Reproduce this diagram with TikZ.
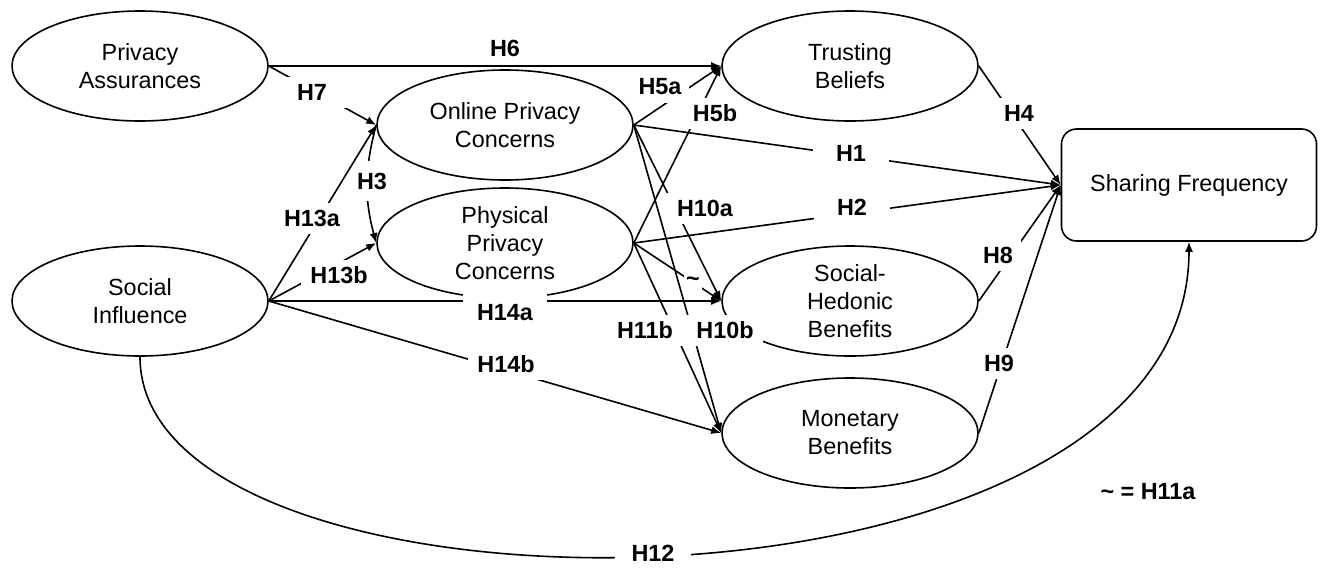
\documentclass[tikz,border=0pt]{standalone}
\usepackage{fontspec}
\setmainfont{Liberation Sans}
\usetikzlibrary{shapes.geometric, arrows.meta}

\newcommand{\diagfont}{\fontsize{11.7}{14}\selectfont}

\begin{document}
\begin{tikzpicture}[
    x=0.5pt, y=-0.5pt,
    line width=0.8pt,
    font=\diagfont,
    latent/.style={ellipse, draw, fill=white, minimum width=128pt, minimum height=55pt, inner sep=0pt, align=center},
    outcome/.style={rectangle, draw, fill=white, rounded corners=7.5pt, minimum width=127.5pt, minimum height=56pt, align=center},
    arrow/.style={->, >={Latex[length=5pt,width=4pt]}},
    hyp/.style={fill=white, font=\diagfont\bfseries, inner xsep=4pt, inner ysep=0pt, minimum height=15.5pt},
    wide/.style={minimum width=38pt}
]
\useasboundingbox (0,0) rectangle (1322,568);

% Constructs
\node[latent] (pa) at (140,66) {Privacy\\Assurances};
\node[latent] (si) at (140,301) {Social\\Influence};
\node[latent] (opc) at (505,125) {Online Privacy\\Concerns};
\node[latent] (ppc) at (505,243) {Physical\\Privacy\\Concerns};
\node[latent] (tb) at (850,66) {Trusting\\Beliefs};
\node[latent] (shb) at (850,301) {Social-\\Hedonic\\Benefits};
\node[latent] (mb) at (850,433) {Monetary\\Benefits};
\node[outcome] (sf) at (1189,185) {Sharing Frequency};

% Paths
\draw[arrow] (pa.east) -- (tb.west);
\draw[arrow] (pa.east) -- (opc.west);
\draw[arrow] (opc.west) to[bend right=15] (ppc.west);
\draw[arrow] (si.east) -- (opc.west);
\draw[arrow] (si.east) -- (ppc.west);
\draw[arrow] (si.east) -- (shb.west);
\draw[arrow] (si.east) -- (mb.west);

\draw[arrow] (opc.east) -- (tb.west);
\draw[arrow] (opc.east) -- (sf.west);
\draw[arrow] (opc.east) -- (shb.west);
\draw[arrow] (opc.east) -- (mb.west);

\draw[arrow] (ppc.east) -- (tb.west);
\draw[arrow] (ppc.east) -- (sf.west);
\draw[arrow] (ppc.east) -- (shb.west);
\draw[arrow] (ppc.east) -- (mb.west);

\draw[arrow] (tb.east) -- (sf.west);
\draw[arrow] (shb.east) -- (sf.west);
\draw[arrow] (mb.east) -- (sf.west);

\draw[arrow] (si.south) .. controls +(0,283) and +(0,399) .. (sf.south);

% Path labels
\node[hyp] (l-h6) at (505,48) {H6};
\node[hyp, wide] (l-h7) at (312,92) {H7};
\node[hyp, inner xsep=1pt, minimum width=16pt, minimum height=20pt] (l-h3) at (372,181) {H3};
\node[hyp] (l-h13a) at (312,218) {H13a};
\node[hyp, wide] (l-h13b) at (339,275) {H13b};
\node[hyp, wide, minimum width=42pt, minimum height=19pt] (l-h14a) at (505,313) {H14a};
\node[hyp, wide] (l-h14b) at (506,364) {H14b};
\node[hyp] (l-h5a) at (660,87) {H5a};
\node[hyp] (l-h5b) at (715,113) {H5b};
\node[hyp, wide] (l-h1) at (851,153) {H1};
\node[hyp, wide] (l-h2) at (852,207) {H2};
\node[hyp, wide] (l-h10a) at (705,208) {H10a};
\node[hyp, inner xsep=1pt, minimum height=8pt] (l-h11a) at (693,282) {\textasciitilde};
\node[hyp, wide] (l-h11b) at (645,330) {H11b};
\node[hyp, wide] (l-h10b) at (725,330) {H10b};
\node[hyp] (l-h4) at (1019,113) {H4};
\node[hyp] (l-h8) at (998,255) {H8};
\node[hyp] (l-h9) at (999,363) {H9};
\node[hyp, wide] (l-h12) at (653,553) {H12};

% Legend
\node[font=\diagfont\bfseries] (legend) at (1148,492) {\textasciitilde{} = H11a};

\end{tikzpicture}
\end{document}
